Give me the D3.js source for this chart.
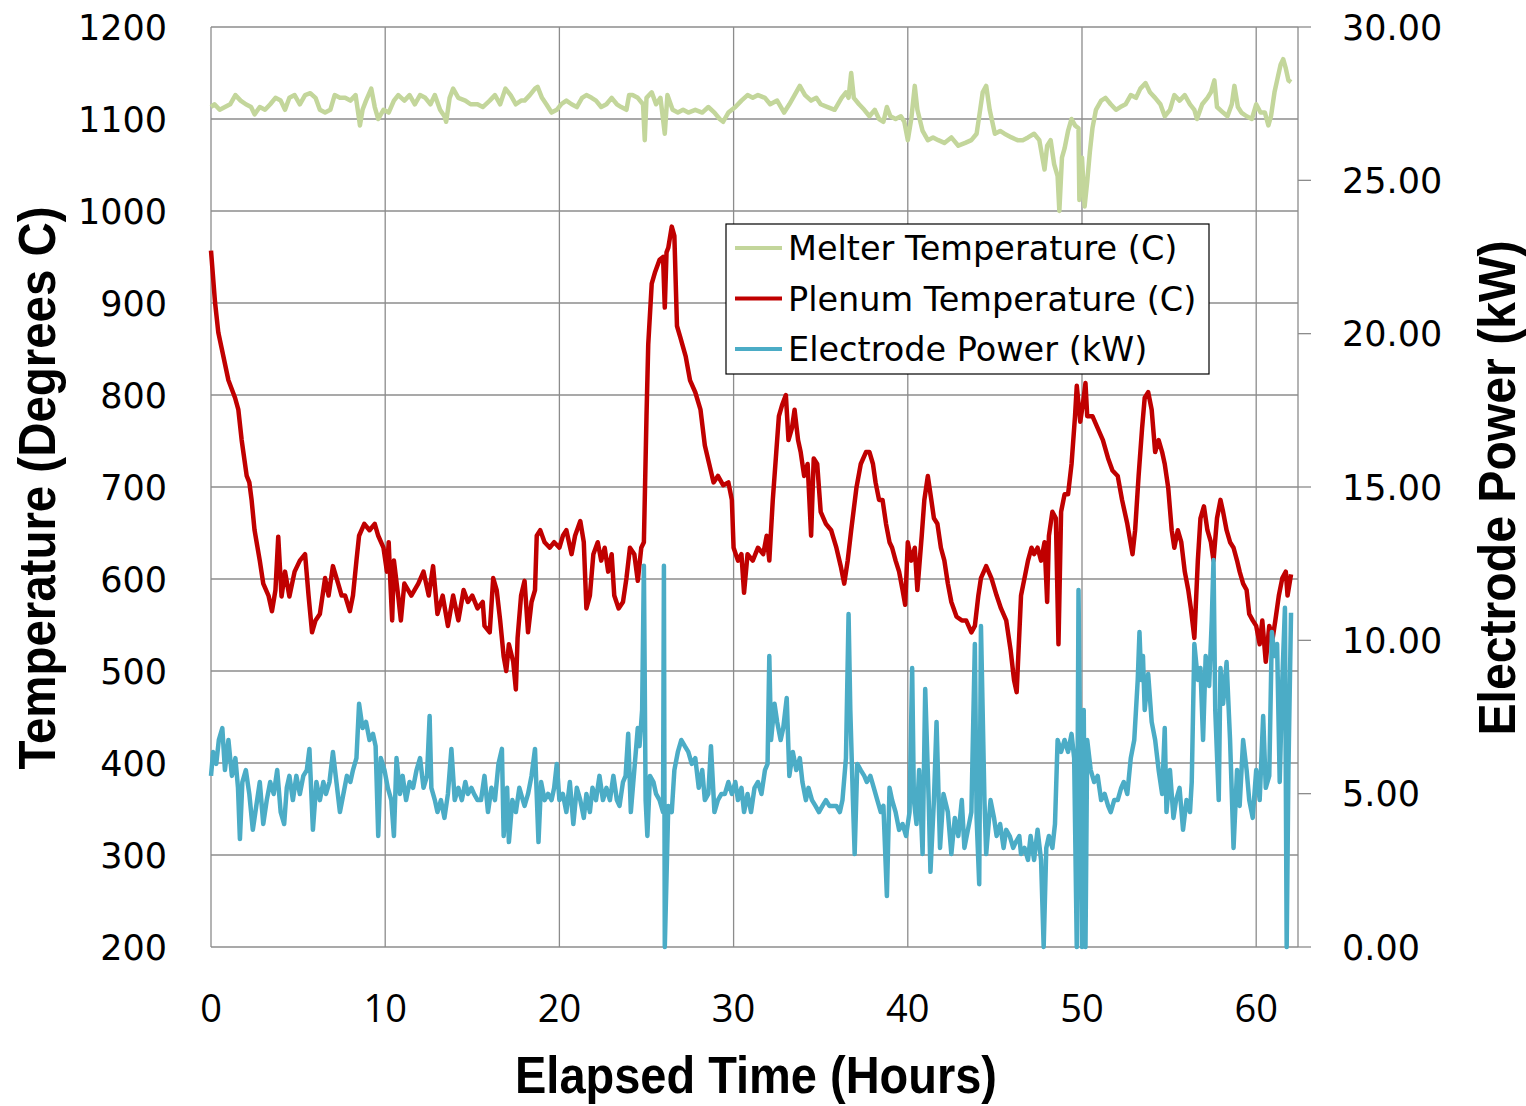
<!DOCTYPE html>
<html>
<head>
<meta charset="utf-8">
<script src="https://d3js.org/d3.v7.min.js"></script>
<style>
  body { margin: 0; background: #fff; }
  svg { display: block; }
</style>
</head>
<body>
<svg id="chart"></svg>
<script>
// values (hours / deg C / kW)
const melterHours = [0,0.2,0.5,0.8,1.1,1.4,1.7,2.0,2.3,2.5,2.8,3.1,3.4,3.7,4.0,4.25,4.5,4.8,5.1,5.4,5.7,6.0,6.25,6.55,6.85,7.1,7.4,7.7,8.0,8.3,8.5,8.55,8.7,8.9,9.2,9.4,9.6,9.9,10.2,10.5,10.75,11.1,11.4,11.7,12.0,12.3,12.6,12.85,13.15,13.4,13.5,13.7,13.9,14.2,14.6,14.9,15.3,15.6,16.0,16.3,16.6,16.9,17.2,17.5,17.8,18.0,18.3,18.6,18.75,19.0,19.25,19.55,19.85,20.1,20.4,20.7,21.0,21.3,21.55,21.85,22.1,22.4,22.7,23.0,23.3,23.55,23.85,24.0,24.2,24.5,24.8,24.9,25.0,25.3,25.55,25.8,26.05,26.2,26.5,26.8,27.1,27.4,27.8,28.2,28.55,28.9,29.2,29.4,29.7,30.1,30.45,30.8,31.1,31.4,31.8,32.1,32.5,32.9,33.2,33.5,33.8,34.1,34.45,34.75,35.0,35.4,35.8,36.2,36.45,36.6,36.75,36.9,37.2,37.5,37.8,38.1,38.35,38.6,38.8,39.0,39.3,39.6,39.8,40.0,40.2,40.4,40.55,40.85,41.15,41.45,41.75,42.1,42.5,42.9,43.3,43.65,43.95,44.1,44.3,44.5,44.7,45.0,45.3,45.55,45.95,46.3,46.6,46.9,47.25,47.55,47.85,48.0,48.2,48.4,48.6,48.7,48.85,49.0,49.2,49.4,49.6,49.8,49.85,50.0,50.15,50.3,50.45,50.6,50.8,51.1,51.35,51.65,51.95,52.2,52.5,52.8,53.1,53.35,53.65,53.9,54.2,54.5,54.75,55.05,55.3,55.6,55.9,56.2,56.45,56.6,56.9,57.2,57.4,57.6,57.75,58.1,58.35,58.6,58.75,58.95,59.15,59.45,59.75,60.0,60.25,60.5,60.7,60.85,61.05,61.2,61.4,61.55,61.7,61.85,62.0];
const melterTemp = [1113,1116,1110,1113,1116,1126,1120,1116,1113,1105,1113,1110,1116,1123,1120,1110,1123,1126,1116,1126,1128,1123,1110,1107,1110,1126,1123,1123,1120,1126,1100,1093,1110,1120,1133,1113,1100,1110,1107,1120,1126,1120,1126,1116,1126,1123,1116,1126,1110,1103,1097,1123,1133,1123,1120,1116,1116,1113,1120,1126,1116,1133,1126,1116,1120,1120,1126,1133,1135,1123,1116,1107,1110,1116,1120,1116,1113,1123,1126,1123,1120,1113,1116,1123,1116,1113,1110,1126,1126,1123,1116,1077,1123,1129,1116,1123,1084,1126,1110,1107,1110,1107,1110,1107,1113,1107,1100,1097,1107,1113,1120,1126,1123,1126,1123,1116,1120,1107,1116,1126,1136,1126,1120,1123,1116,1113,1110,1123,1129,1123,1150,1123,1116,1110,1103,1110,1100,1097,1113,1103,1100,1103,1097,1077,1100,1136,1110,1087,1077,1080,1077,1074,1080,1071,1074,1077,1084,1103,1129,1136,1110,1084,1087,1084,1080,1077,1077,1080,1084,1077,1045,1071,1077,1051,1038,1000,1058,1068,1087,1100,1093,1090,1012,1058,1005,1032,1064,1090,1110,1120,1123,1116,1110,1113,1116,1126,1123,1133,1139,1129,1123,1116,1103,1110,1126,1120,1126,1116,1110,1100,1116,1123,1129,1142,1113,1107,1103,1116,1136,1113,1107,1103,1100,1116,1107,1107,1093,1103,1129,1142,1159,1165,1155,1142,1140];

const plenumHours = [0,0.23,0.42,0.6,1.0,1.38,1.57,1.76,2.05,2.2,2.33,2.5,2.8,3.0,3.3,3.5,3.7,3.86,4.05,4.25,4.5,4.8,5.1,5.4,5.6,5.8,6.0,6.25,6.55,6.75,7.0,7.3,7.5,7.7,7.97,8.15,8.35,8.5,8.8,9.1,9.4,9.6,9.9,10.1,10.2,10.3,10.4,10.5,10.75,10.9,11.1,11.5,11.9,12.2,12.5,12.75,13.0,13.3,13.6,13.9,14.2,14.5,14.75,15.0,15.3,15.6,15.7,16.0,16.2,16.4,16.6,16.8,16.95,17.1,17.35,17.5,17.6,17.8,18.0,18.2,18.4,18.6,18.7,18.9,19.15,19.45,19.7,20.0,20.2,20.4,20.7,20.9,21.2,21.4,21.55,21.75,21.95,22.2,22.4,22.6,22.8,23.0,23.15,23.4,23.65,23.85,24.05,24.3,24.5,24.7,24.85,25.0,25.1,25.3,25.5,25.75,25.95,26.05,26.15,26.25,26.45,26.6,26.75,26.95,27.25,27.5,27.8,28.1,28.35,28.6,28.85,29.1,29.4,29.7,29.9,30.0,30.25,30.45,30.6,30.8,31.1,31.4,31.7,31.9,32.05,32.25,32.45,32.6,32.8,33.0,33.15,33.35,33.5,33.7,33.85,34.05,34.25,34.45,34.6,34.8,35.0,35.3,35.6,35.9,36.15,36.35,36.55,36.75,37.05,37.3,37.6,37.8,38.0,38.15,38.35,38.55,38.75,38.95,39.1,39.3,39.5,39.7,39.85,40.0,40.2,40.4,40.55,40.8,40.95,41.15,41.35,41.5,41.7,41.9,42.1,42.3,42.5,42.8,43.1,43.35,43.65,43.85,44.05,44.2,44.5,44.8,45.1,45.35,45.65,45.9,46.1,46.25,46.5,46.7,46.9,47.1,47.25,47.45,47.65,47.85,48.0,48.1,48.3,48.5,48.65,48.8,49.0,49.2,49.4,49.6,49.7,49.9,50.05,50.2,50.3,50.6,50.9,51.2,51.5,51.75,52.05,52.3,52.6,52.9,53.05,53.25,53.45,53.6,53.8,54.0,54.2,54.4,54.6,54.75,54.95,55.15,55.3,55.5,55.7,55.9,56.1,56.25,56.45,56.65,56.8,57.0,57.2,57.4,57.55,57.75,57.95,58.1,58.3,58.5,58.7,58.9,59.05,59.25,59.45,59.6,59.8,60.0,60.2,60.35,60.55,60.75,60.95,61.1,61.3,61.5,61.7,61.8,62.0];
const plenumTemp = [957,901,868,852,816,797,784,751,712,705,686,653,620,595,582,565,588,646,581,608,581,608,620,627,582,542,555,562,601,582,614,595,582,582,565,582,620,647,660,653,660,647,634,608,640,595,555,620,581,555,595,582,595,608,582,614,562,582,549,582,555,588,575,582,568,575,549,542,601,588,555,516,500,529,510,480,536,582,598,542,575,588,647,653,640,634,640,634,647,653,627,647,663,640,568,582,627,640,620,634,608,627,582,568,575,601,634,627,598,634,640,777,855,921,934,947,950,895,955,960,983,973,875,862,842,816,803,784,745,725,705,712,702,705,686,634,620,627,585,627,620,634,627,647,620,686,738,777,790,800,751,764,784,751,738,712,725,647,731,725,673,660,653,634,614,595,620,653,699,725,738,738,725,705,686,686,660,640,634,620,608,588,572,640,620,634,588,647,686,712,686,666,660,634,620,595,575,559,555,555,542,549,582,601,614,601,582,568,555,523,490,477,582,601,620,634,627,634,620,640,575,647,673,666,529,673,692,692,725,777,810,771,790,813,777,777,764,751,731,718,712,686,660,627,653,712,764,797,803,784,738,751,738,725,699,653,634,653,640,608,588,568,536,620,666,679,653,640,620,666,686,673,653,640,634,620,608,595,588,562,555,549,529,555,510,549,536,555,582,601,608,582,605];

const powerHours = [0,0.12,0.3,0.45,0.65,0.8,1.0,1.2,1.4,1.55,1.66,1.8,2.0,2.2,2.4,2.6,2.8,3.0,3.2,3.4,3.6,3.8,4.0,4.2,4.35,4.5,4.7,4.9,5.1,5.3,5.5,5.65,5.85,6.05,6.25,6.45,6.6,6.8,7.0,7.2,7.4,7.6,7.8,8.0,8.15,8.35,8.5,8.7,8.9,9.1,9.3,9.45,9.6,9.75,9.96,10.15,10.35,10.5,10.65,10.85,11.0,11.2,11.4,11.6,11.8,12.0,12.2,12.4,12.55,12.65,12.85,13.0,13.2,13.4,13.6,13.8,13.99,14.2,14.4,14.6,14.75,14.95,15.1,15.3,15.5,15.7,15.9,16.1,16.3,16.5,16.7,16.8,17.0,17.1,17.3,17.5,17.7,17.9,18.0,18.2,18.4,18.6,18.8,18.95,19.15,19.35,19.55,19.7,19.85,20.0,20.2,20.4,20.6,20.8,21.0,21.2,21.4,21.55,21.75,21.9,22.1,22.3,22.5,22.7,22.9,23.1,23.3,23.45,23.65,23.8,23.95,24.1,24.3,24.5,24.6,24.75,24.85,24.95,25.05,25.2,25.4,25.55,25.75,25.95,26.0,26.05,26.25,26.45,26.6,26.8,27.0,27.2,27.4,27.6,27.8,28.0,28.2,28.35,28.55,28.7,28.9,29.1,29.3,29.5,29.7,29.9,30.1,30.25,30.45,30.6,30.8,31.0,31.2,31.4,31.6,31.8,31.95,32.05,32.15,32.35,32.5,32.7,32.85,33.05,33.2,33.4,33.6,33.8,33.95,34.15,34.3,34.5,34.7,34.9,35.1,35.3,35.5,35.7,35.9,36.1,36.25,36.45,36.6,36.7,36.85,36.95,37.1,37.3,37.5,37.65,37.85,38.05,38.25,38.45,38.6,38.8,38.95,39.1,39.3,39.5,39.7,39.9,40.1,40.25,40.35,40.5,40.65,40.85,41.0,41.2,41.3,41.5,41.65,41.85,42.05,42.3,42.5,42.7,42.9,43.1,43.25,43.45,43.65,43.85,43.95,44.1,44.2,44.4,44.5,44.75,44.95,45.1,45.3,45.5,45.65,45.85,46.05,46.2,46.4,46.5,46.7,46.9,47.05,47.25,47.45,47.65,47.8,47.95,48.1,48.3,48.45,48.6,48.8,49.0,49.2,49.4,49.55,49.7,49.8,49.9,50.0,50.1,50.2,50.3,50.5,50.7,50.9,51.1,51.3,51.5,51.65,51.85,52.05,52.25,52.4,52.6,52.8,53.0,53.2,53.3,53.4,53.5,53.6,53.8,54.0,54.2,54.4,54.6,54.75,54.85,55.05,55.25,55.4,55.6,55.8,56.0,56.2,56.3,56.45,56.65,56.8,56.95,57.1,57.3,57.45,57.55,57.65,57.85,57.95,58.1,58.3,58.5,58.7,58.9,59.05,59.25,59.45,59.6,59.8,60.0,60.2,60.4,60.55,60.75,60.9,61.05,61.2,61.35,61.5,61.65,61.75,61.85,62.0];
const powerKw = [5.58,6.36,5.97,6.75,7.14,5.77,6.75,5.58,6.16,5.19,3.52,5.38,5.77,4.99,3.82,4.6,5.38,4.01,4.79,5.38,4.99,5.77,4.4,4.01,5.19,5.58,4.79,5.58,4.99,5.58,5.77,6.46,3.82,5.38,4.79,5.38,4.99,5.38,6.36,5.38,4.4,4.99,5.58,5.38,5.77,6.16,7.93,7.14,7.34,6.75,6.95,6.55,3.62,6.16,5.77,5.19,4.79,3.62,6.16,4.99,5.58,4.79,5.38,5.19,5.77,6.16,5.19,5.58,7.53,5.19,4.79,4.4,4.79,4.21,4.99,6.46,4.79,5.19,4.79,5.38,4.99,5.19,4.99,4.79,4.79,5.58,4.4,5.19,4.79,5.97,6.46,3.62,5.19,3.42,4.79,4.4,5.19,4.79,4.6,4.99,5.58,6.46,3.42,5.38,4.79,4.99,4.79,5.19,5.97,4.79,4.99,4.4,5.38,4.01,5.19,4.79,4.21,4.99,4.4,5.19,4.79,5.58,4.79,5.19,4.79,5.58,4.79,4.6,5.38,5.58,6.95,4.4,5.77,7.14,6.55,7.73,12.43,4.79,3.62,5.58,5.38,4.99,4.79,4.4,12.43,0,4.6,4.4,5.77,6.36,6.75,6.55,6.36,5.97,6.16,5.19,5.77,4.79,4.99,6.55,4.4,4.79,4.99,4.99,5.38,4.99,5.38,4.79,5.19,4.4,4.99,4.4,5.19,5.38,4.99,5.77,5.97,9.49,6.75,7.93,7.34,6.75,7.14,8.12,5.58,6.36,5.77,6.16,5.38,4.79,5.19,4.79,4.6,4.4,4.6,4.79,4.6,4.6,4.6,4.4,4.79,6.16,10.86,7.73,4.79,3.03,5.97,5.77,5.58,5.38,5.58,5.19,4.79,4.4,4.6,1.66,5.19,4.79,4.4,3.82,4.01,3.62,4.4,9.1,4.79,4.01,5.77,3.03,8.41,4.79,2.45,4.79,7.34,3.23,4.99,4.4,3.03,4.21,3.62,4.79,3.23,3.82,4.4,9.88,4.21,2.05,10.47,4.79,3.03,4.79,4.21,3.62,4.01,3.23,3.82,3.62,3.23,3.42,3.62,3.03,3.23,2.84,3.62,2.84,3.82,2.84,0,3.23,3.62,3.23,4.01,6.75,6.36,6.75,6.36,6.95,6.16,0,11.64,5.77,0,7.73,0,6.75,5.77,5.38,5.58,4.79,4.99,4.6,4.4,4.79,4.79,5.19,5.38,4.99,6.16,6.75,8.71,10.27,8.71,9.49,7.73,8.9,7.34,6.75,5.77,4.99,7.14,4.4,5.77,4.21,4.79,5.19,3.82,4.79,4.4,5.38,9.88,8.71,9.1,6.75,9.49,8.51,10.67,12.62,7.73,4.79,9.1,7.93,9.29,6.75,3.23,5.77,4.6,6.75,5.77,4.79,4.21,5.77,4.79,7.53,5.19,5.58,10.27,9.49,9.88,5.38,8.71,11.06,0,5.77,10.9];

const hourTicks = [0, 10, 20, 30, 40, 50, 60];
const tempTicks = [200, 300, 400, 500, 600, 700, 800, 900, 1000, 1100, 1200];
const powerTicks = [0, 5, 10, 15, 20, 25, 30];
const seriesNames = ["Melter Temperature (C)", "Plenum Temperature (C)", "Electrode Power (kW)"];
const seriesColors = ["#c3d69b", "#c00000", "#4bacc6"];

const width = 1526,
      height = 1106,
      plotLeft = 211, plotRight = 1298, plotTop = 27, plotBottom = 947;

const svg = d3.select("#chart")
    .attr("width", width)
    .attr("height", height);

const x = d3.scaleLinear().domain([0, 62.4]).range([plotLeft, plotRight]);
const yTemp = d3.scaleLinear().domain([200, 1200]).range([plotBottom, plotTop]);
const yPower = d3.scaleLinear().domain([0, 30]).range([plotBottom, plotTop]);

const gridColor = "#8c8c8c";

// gridlines
svg.append("g").selectAll("line")
    .data(tempTicks)
    .enter().append("line")
        .attr("x1", plotLeft).attr("x2", plotRight)
        .attr("y1", (d) => yTemp(d)).attr("y2", (d) => yTemp(d))
        .attr("stroke", gridColor).attr("stroke-width", 1.3);

svg.append("g").selectAll("line")
    .data(hourTicks)
    .enter().append("line")
        .attr("x1", (d) => x(d)).attr("x2", (d) => x(d))
        .attr("y1", plotTop).attr("y2", plotBottom)
        .attr("stroke", gridColor).attr("stroke-width", 1.3);

// right axis line + ticks
svg.append("line")
    .attr("x1", plotRight).attr("x2", plotRight)
    .attr("y1", plotTop).attr("y2", plotBottom)
    .attr("stroke", gridColor).attr("stroke-width", 1.3);

svg.append("g").selectAll("line")
    .data(powerTicks)
    .enter().append("line")
        .attr("x1", plotRight).attr("x2", plotRight + 13)
        .attr("y1", (d) => yPower(d)).attr("y2", (d) => yPower(d))
        .attr("stroke", gridColor).attr("stroke-width", 1.3);

// tick labels
svg.append("g").selectAll("text")
    .data(tempTicks)
    .enter().append("text")
        .attr("x", 167)
        .attr("y", (d) => yTemp(d))
        .attr("dy", "0.36em")
        .attr("text-anchor", "end")
        .style("font-family", "'DejaVu Sans'")
        .style("font-size", "35px")
        .text((d) => d);

svg.append("g").selectAll("text")
    .data(powerTicks)
    .enter().append("text")
        .attr("x", 1342)
        .attr("y", (d) => yPower(d))
        .attr("dy", "0.36em")
        .style("font-family", "'DejaVu Sans'")
        .style("font-size", "35px")
        .text((d) => d3.format(".2f")(d));

svg.append("g").selectAll("text")
    .data(hourTicks)
    .enter().append("text")
        .attr("x", (d) => x(d))
        .attr("y", 1022)
        .attr("text-anchor", "middle")
        .style("font-family", "'Open Sans'")
        .style("font-size", "38px")
        .text((d) => d);

// axis titles (condensed bold, squeezed to the reference widths)
const titleFont = "'Liberation Sans', Arial, sans-serif";
svg.append("text")
    .attr("x", 756).attr("y", 1093)
    .attr("text-anchor", "middle")
    .attr("textLength", 482).attr("lengthAdjust", "spacingAndGlyphs")
    .style("font-family", titleFont).style("font-weight", "bold").style("font-size", "52px")
    .text("Elapsed Time (Hours)");

svg.append("text")
    .attr("transform", `translate(${[55, 488]}) rotate(-90)`)
    .attr("text-anchor", "middle")
    .attr("textLength", 563).attr("lengthAdjust", "spacingAndGlyphs")
    .style("font-family", titleFont).style("font-weight", "bold").style("font-size", "52px")
    .text("Temperature (Degrees C)");

svg.append("text")
    .attr("transform", `translate(${[1515, 488]}) rotate(-90)`)
    .attr("text-anchor", "middle")
    .attr("textLength", 495).attr("lengthAdjust", "spacingAndGlyphs")
    .style("font-family", titleFont).style("font-weight", "bold").style("font-size", "52px")
    .text("Electrode Power (kW)");

// series
const lineFor = (scale) => d3.line()
    .x((d) => x(d[0]))
    .y((d) => scale(d[1]));

const series = [
    { hours: melterHours, values: melterTemp, scale: yTemp },
    { hours: plenumHours, values: plenumTemp, scale: yTemp },
    { hours: powerHours, values: powerKw, scale: yPower }
];

series.forEach((s, i) => {
    svg.append("path")
        .datum(d3.zip(s.hours, s.values))
        .attr("d", lineFor(s.scale))
        .attr("fill", "none")
        .attr("stroke", seriesColors[i])
        .attr("stroke-width", 4.5)
        .attr("stroke-linejoin", "round");
});

// legend
const legend = svg.append("g")
    .attr("transform", `translate(${[726, 224]})`);

legend.append("rect")
    .attr("width", 483).attr("height", 150)
    .attr("fill", "#fff")
    .attr("stroke", "#000").attr("stroke-width", 1.2);

const row = legend.selectAll(".row")
    .data(seriesNames)
    .enter().append("g")
        .attr("class", "row")
        .attr("transform", (d, i) => `translate(0, ${24 + i * 50.5})`);

row.append("line")
    .attr("x1", 9).attr("x2", 56)
    .attr("stroke", (d, i) => seriesColors[i])
    .attr("stroke-width", 4);

row.append("text")
    .attr("x", 62)
    .attr("dy", "0.36em")
    .style("font-family", "'DejaVu Sans'")
    .style("font-size", "33.5px")
    .text((d) => d);
</script>
</body>
</html>
